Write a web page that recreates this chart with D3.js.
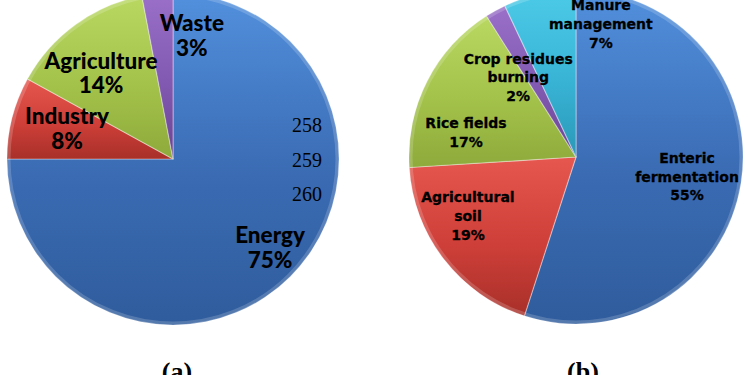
<!DOCTYPE html>
<html>
<head>
<meta charset="utf-8">
<script src="https://cdn.jsdelivr.net/npm/d3@7"></script>
<style>
  html, body { margin: 0; padding: 0; background: #fff; }
  svg { display: block; }
  .lblA { font-family: Lato, "Open Sans", sans-serif; font-weight: 900; font-size: 22.5px; fill: #000; }
  .lblB { font-family: "DejaVu Sans", Verdana, sans-serif; font-weight: bold; font-size: 14px; fill: #000; stroke: #000; stroke-width: 0.3px; }
  .num { font-family: "Liberation Serif", "Times New Roman", serif; font-size: 20px; fill: #000; }
  .cap { font-family: "Liberation Serif", "Times New Roman", serif; font-weight: bold; font-size: 26px; fill: #000; }
</style>
</head>
<body>
<div id="chart"></div>
<script>
  // (a) emissions by sector
  var sectorsA = ["Energy", "Industry", "Agriculture", "Waste"];
  var sharesA = [75, 8, 14, 3];

  // (b) agriculture breakdown
  var sectorsB = ["Enteric fermentation", "Agricultural soil", "Rice fields", "Crop residues burning", "Manure management"];
  var sharesB = [55, 19, 17, 2, 7];

  // stray page numbers sitting over pie (a)
  var pageNums = ["258", "259", "260"];

  var captions = ["(a)", "(b)"];

  // label text lines for each slice
  var linesA = [["Energy", "75%"], ["Industry", "8%"], ["Agriculture", "14%"], ["Waste", "3%"]];
  var linesB = [["Enteric", "fermentation", "55%"], ["Agricultural", "soil", "19%"],
                ["Rice fields", "17%"], ["Crop residues", "burning", "2%"], ["Manure", "management", "7%"]];

  // label anchor: angle (deg, clockwise from top) and fraction of radius
  var anchorA = [[132, 0.787], [286.5, 0.666], [320.4, 0.68], [8.6, 0.76]];
  var anchorB = [[100, 0.675], [241.4, 0.737], [282.6, 0.675], [324.1, 0.59], [10.6, 0.81]];

  var palette = {
    blue:   ["#5290dd", "#3a6bb3", "#2f5c9c"],
    red:    ["#e5574f", "#cf3f39", "#a83029"],
    green:  ["#b9d862", "#a3c24a", "#8eaa3b"],
    purple: ["#9a70c8", "#8159b0", "#6a4494"],
    cyan:   ["#4ccbe8", "#38b3d4", "#2b98b8"]
  };
  var colorsA = ["blue", "red", "green", "purple"];
  var colorsB = ["blue", "red", "green", "purple", "cyan"];

  var width = 750, height = 375;

  var svg = d3.select("#chart").append("svg")
      .attr("width", width)
      .attr("height", height);

  var defs = svg.append("defs");
  Object.keys(palette).forEach(function (k) {
    var g = defs.append("linearGradient")
        .attr("id", "grad_" + k)
        .attr("x1", 0).attr("y1", 0).attr("x2", 0).attr("y2", 1);
    g.append("stop").attr("offset", "0%").attr("stop-color", palette[k][0]);
    g.append("stop").attr("offset", "55%").attr("stop-color", palette[k][1]);
    g.append("stop").attr("offset", "100%").attr("stop-color", palette[k][2]);
  });

  var pie = d3.pie().sort(null).value(function (d) { return d; });

  function drawPie(cx, cy, r, shares, colors, lines, anchors, cls, lineH) {
    var g = svg.append("g").attr("transform", "translate(" + cx + "," + cy + ")");
    var arc = d3.arc().innerRadius(0).outerRadius(r);
    var arcs = pie(shares);

    g.selectAll("path.slice")
        .data(arcs)
      .enter().append("path")
        .attr("class", "slice")
        .attr("d", arc)
        .attr("fill", function (d, i) { return "url(#grad_" + colors[i] + ")"; })
        .attr("stroke", "rgba(255,255,255,0.35)")
        .attr("stroke-width", 1.2)
        .attr("stroke-linejoin", "round");

    // soft rim shading
    g.append("circle")
        .attr("r", r - 2)
        .attr("fill", "none")
        .attr("stroke", "rgba(255,255,255,0.18)")
        .attr("stroke-width", 3);

    arcs.forEach(function (d, i) {
      var a = anchors[i][0] * Math.PI / 180,
          rr = anchors[i][1] * r,
          x = rr * Math.sin(a),
          y = -rr * Math.cos(a),
          n = lines[i].length;
      var t = g.append("text")
          .attr("class", cls)
          .attr("text-anchor", "middle")
          .attr("x", x)
          .attr("y", y - (n - 1) * lineH / 2)
          .attr("dominant-baseline", "central");
      lines[i].forEach(function (s, j) {
        t.append("tspan")
            .attr("x", x)
            .attr("dy", j === 0 ? 0 : lineH)
            .text(s);
      });
    });
    return g;
  }

  drawPie(173, 159, 166, sharesA, colorsA, linesA, anchorA, "lblA", 24.5);
  drawPie(576, 157, 167, sharesB, colorsB, linesB, anchorB, "lblB", 18.7);

  var yNum = d3.scalePoint().domain(pageNums).range([125, 194]);
  svg.selectAll("text.num")
      .data(pageNums)
    .enter().append("text")
      .attr("class", "num")
      .attr("text-anchor", "middle")
      .attr("dominant-baseline", "central")
      .attr("x", 307)
      .attr("y", function (d) { return yNum(d); })
      .text(function (d) { return d; });

  var xCap = d3.scaleOrdinal().domain(captions).range([177, 583]);
  svg.selectAll("text.cap")
      .data(captions)
    .enter().append("text")
      .attr("class", "cap")
      .attr("text-anchor", "middle")
      .attr("x", function (d) { return xCap(d); })
      .attr("y", 380)
      .text(function (d) { return d; });
</script>
</body>
</html>
